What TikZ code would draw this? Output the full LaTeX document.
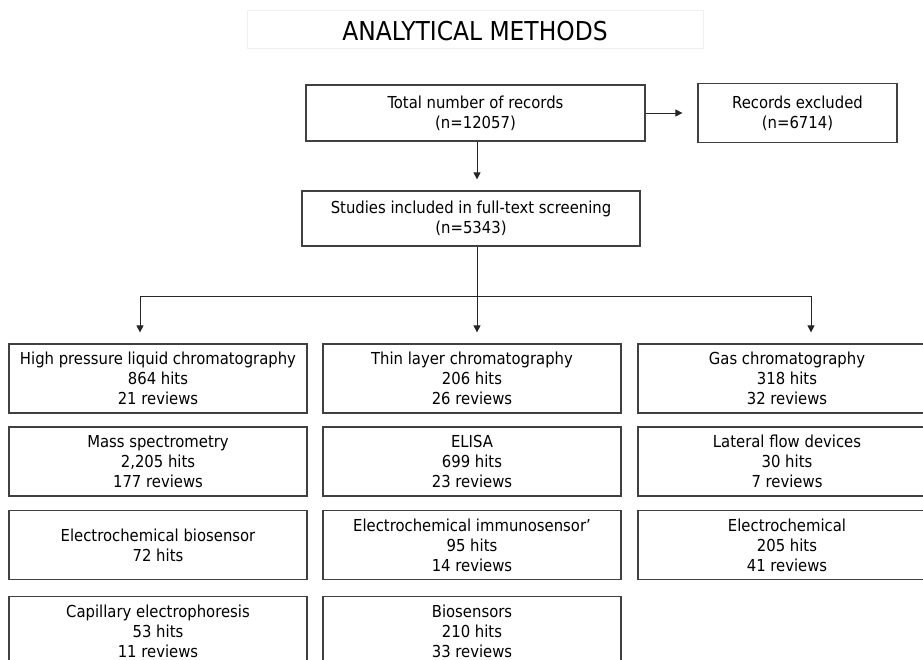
\documentclass[tikz,border=0pt]{standalone}
\usepackage{fontspec}
\setmainfont{DejaVu Sans Condensed}
\usetikzlibrary{arrows.meta}
\tikzset{
  box/.style={draw=black!75, line width=1.2pt, rectangle, align=center, inner sep=0pt,
    font=\fontsize{16.5}{20}\selectfont, text=black},
  cbox/.style={box, minimum width=298pt, minimum height=69pt},
  conn/.style={line width=0.8pt, black!85},
  arr/.style={conn, -{Triangle[length=7pt,width=7pt]}, shorten >=11pt},
}
\begin{document}
\begin{tikzpicture}[x=1pt,y=-1pt]
\useasboundingbox (0,0) rectangle (923,660);
\clip (0,0) rectangle (923,660);
\fill[white] (0,0) rectangle (923,660);
\draw[black!6] (247,10) rectangle (703,48);
\node[font=\fontsize{26}{30}\selectfont, text=black] (title) at (475,31) {ANALYTICAL METHODS};

\node[box, minimum width=339pt, minimum height=56pt] (total) at (475.5,113) {Total number of records\\(n=12057)};
\node[box, minimum width=199pt, minimum height=59pt] (excl) at (797.5,113) {Records excluded\\(n=6714)};
\node[box, minimum width=338pt, minimum height=55pt] (studies) at (471,218.5) {Studies included in full-text screening\\(n=5343)};

\node[cbox] (a1) at (158,378.5) {High pressure liquid chromatography\\864 hits\\21 reviews};
\node[cbox] (a2) at (158,461.5) {Mass spectrometry\\2,205 hits\\177 reviews};
\node[cbox] (a3) at (158,545) {Electrochemical biosensor\\72 hits};
\node[cbox] (a4) at (158,631) {Capillary electrophoresis\\53 hits\\11 reviews};

\node[cbox] (b1) at (472,378.5) {Thin layer chromatography\\206 hits\\26 reviews};
\node[cbox] (b2) at (472,461.5) {ELISA\\699 hits\\23 reviews};
\node[cbox] (b3) at (472,545) {Electrochemical immunosensor’\\95 hits\\14 reviews};
\node[cbox] (b4) at (472,631) {Biosensors\\210 hits\\33 reviews};

\node[cbox] (c1) at (787,378.5) {Gas chromatography\\318 hits\\32 reviews};
\node[cbox] (c2) at (787,461.5) {Lateral flow devices\\30 hits\\7 reviews};
\node[cbox] (c3) at (787,545) {Electrochemical\\205 hits\\41 reviews};

\coordinate (split) at (477,296);
\coordinate (hl) at (140,296);
\coordinate (hr) at (811,296);

\draw[arr, shorten >=15pt] (total.east) -- (excl.west);
\draw[arr] (total.south -| split) -- (split |- studies.north);
\draw[conn] (studies.south -| split) -- (split);
\draw[conn] (hl) -- (hr);
\draw[arr] (hl) -- (hl |- a1.north);
\draw[arr] (split) -- (split |- b1.north);
\draw[arr] (hr) -- (hr |- c1.north);
\end{tikzpicture}
\end{document}
